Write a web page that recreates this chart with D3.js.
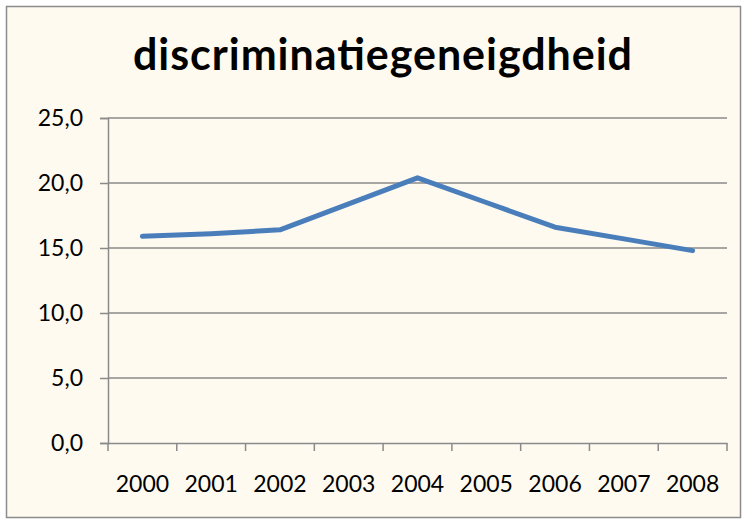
<!DOCTYPE html>
<html>
<head>
<meta charset="utf-8">
<script src="https://cdn.jsdelivr.net/npm/d3@7"></script>
<style>
  body { margin: 0; background: #fff; }
  svg { display: block; }
</style>
</head>
<body>
<div id="chart"></div>
<script>
// Data
const years = ["2000", "2001", "2002", "2003", "2004", "2005", "2006", "2007", "2008"];
const values = [15.9, 16.1, 16.4, 18.4, 20.4, 18.5, 16.6, 15.7, 14.8];
const yTicks = [0, 5, 10, 15, 20, 25];
const title = "discriminatiegeneigdheid";

const W = 747, H = 524;
const margin = { top: 118, right: 20, bottom: 81, left: 108 };
const width = 727 - margin.left;
const height = 443 - margin.top;

const svg = d3.select("#chart").append("svg")
    .attr("width", W)
    .attr("height", H);

// chart background + border
svg.append("rect")
    .attr("x", 6.5).attr("y", 6.5)
    .attr("width", W - 13).attr("height", H - 13)
    .attr("fill", "#fefaf0")
    .attr("stroke", "#8c8c8c")
    .attr("stroke-width", 1.5);

svg.append("text")
    .attr("x", 382.5)
    .attr("y", 70)
    .attr("text-anchor", "middle")
    .attr("font-family", "Lato, 'Open Sans', sans-serif")
    .attr("font-weight", "bold")
    .attr("font-size", 43)
    .attr("textLength", 499)
    .attr("lengthAdjust", "spacing")
    .attr("fill", "#000")
    .text(title);

const g = svg.append("g")
    .attr("transform", `translate(${margin.left},${margin.top})`);

const x = d3.scaleBand().domain(years).range([0, width]);
const y = d3.scaleLinear().domain([0, 25]).range([height, 0]);

// gridlines
g.selectAll(".grid")
    .data(yTicks.filter(d => d > 0))
    .enter().append("line")
    .attr("x1", 0).attr("x2", width)
    .attr("y1", d => y(d)).attr("y2", d => y(d))
    .attr("stroke", "#8a8a8a")
    .attr("stroke-width", 1.5);

// y axis
const yAxis = g.append("g")
    .call(d3.axisLeft(y).tickValues(yTicks).tickSize(8).tickPadding(17)
        .tickFormat(d => d3.format(".1f")(d).replace(".", ",")));

// x axis
const xAxis = g.append("g")
    .attr("transform", `translate(0,${height})`)
    .call(d3.axisBottom(x).tickSize(0).tickPadding(33));

// x axis ticks at band boundaries
xAxis.selectAll(".bound")
    .data(d3.range(years.length + 1))
    .enter().append("line")
    .attr("class", "bound")
    .attr("x1", i => i * x.step()).attr("x2", i => i * x.step())
    .attr("y1", 0).attr("y2", 8)
    .attr("stroke", "#8a8a8a")
    .attr("stroke-width", 1.5);

[yAxis, xAxis].forEach(a => {
    a.selectAll(".domain").attr("stroke", "#8a8a8a").attr("stroke-width", 1.5);
    a.selectAll(".tick line").attr("stroke", "#8a8a8a").attr("stroke-width", 1.5);
    a.selectAll("text")
        .attr("font-family", "Lato, 'Open Sans', sans-serif")
        .attr("font-size", 23)
        .attr("fill", "#000");
});

const line = d3.line()
    .x((d, i) => x(years[i]) + x.bandwidth() / 2)
    .y(d => y(d));

g.append("path")
    .datum(values)
    .attr("fill", "none")
    .attr("stroke", "#4a7ebb")
    .attr("stroke-width", 5)
    .attr("stroke-linejoin", "round")
    .attr("stroke-linecap", "round")
    .attr("d", line);
</script>
</body>
</html>
